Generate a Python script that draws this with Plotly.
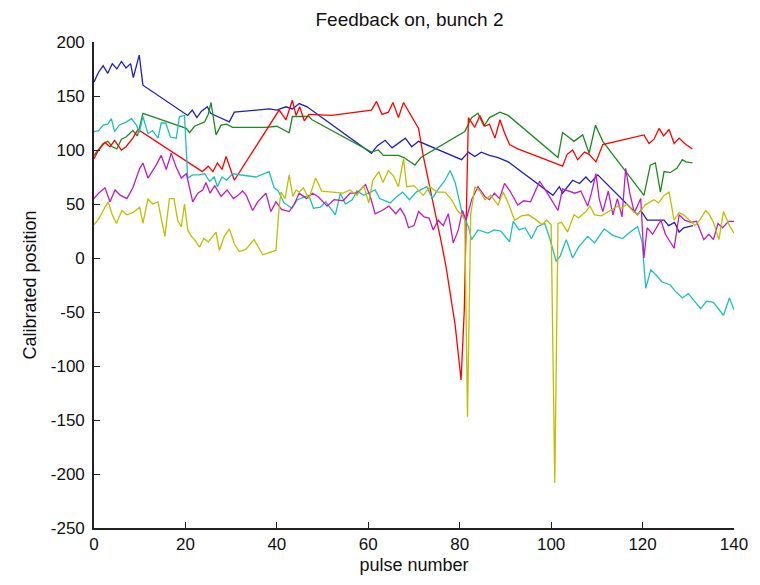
import plotly.graph_objects as go

title_text = "Feedback on, bunch 2"
x_label = "pulse number"
y_label = "Calibrated position"

series_names = ["blue", "green", "red", "cyan", "magenta", "yellow"]
series_colors = ["#1f1fb8", "#1e8a1e", "#ff0000", "#1cbfbf", "#bf1cbf", "#bfbf00"]

blue_pts = [(0,163),(1,172),(2,178),(3,171),(4,180),(5,175),(6,182),(7,176),(8,180),(8.6,167),(9.9,188),
            (10.7,160),(20.5,132),(21.5,137),(22.5,130),(23.5,136),(24.8,140),(25.5,134),(27,131),(29.6,126),
            (30.7,135),(38.3,138),(40,137),(42,140),(43.4,138),(44.9,143),(46.6,140),(49.2,132),(60.7,97),
            (62,104),(63.7,109),(65.2,102),(66.5,106),(68.1,111),(69.5,103),(71,108),(80.4,91),(81.9,98),
            (83.3,94),(84.7,98),(86.5,95),(88.4,93),(90.6,89),(100.4,58),(101.8,66),(102.5,60),(104.7,72),
            (106.2,69),(107.6,75),(108.7,70),(110.2,77),(118.9,40),(119.6,44),(121,35),(124.7,35),(125.7,30),
            (127,33),(128,24),(129,28),(131,30)]

green_pts = [(0,95),(1,100),(2,106),(3,108),(4,103),(5,101),(6,110),(7,112),(8.5,118),(9.5,113),(10.7,134),
             (20.2,120),(20.9,116),(22,122),(24.2,126),(25,133),(25.6,144),(26.7,114),(27.8,123),(29,124),
             (30.3,121),(37.6,121),(40,122),(42.7,116),(43.4,131),(47,131),(47.7,128),(60.7,98),(62.2,100),
             (63.3,95),(66.6,95),(67.8,93),(70.2,86),(71.5,93),(81.1,117),(82.6,130),(84,134),(85.3,122),
             (86.5,130),(88.8,135),(90.6,132),(101.5,93),(102.5,116),(103.5,113),(105,108),(106.9,114),
             (108.3,97),(109.7,123),(111.3,108),(120.3,58),(121.7,86),(122.8,88),(123.9,61),(124.7,80),
             (126,79),(127.5,83),(128.7,91),(129.5,89),(130.9,88)]

red_pts = [(0,92),(1,100),(2.4,107),(3.5,103),(4.5,109),(6,100),(7,103),(8.5,111),(9.6,119),(23.7,80),
           (25,85),(26,80),(27,88),(28,82),(28.9,94),(30.7,72),(40.5,137),(42,128),(43.4,146),(44.2,132),
           (45,140),(46,127),(47,133),(52,132),(60.7,137),(61.8,145),(63,133),(64.4,135),(65.4,144),
           (66.6,130),(67.7,144),(71,120),(72,95),(73,75),(74,55),(75,36),(76,14),(77,-8),(78,-36),(79,-62),
           (80.3,-113),(81,-48),(81.9,130),(83.3,121),(84.4,132),(85.5,122),(86.5,124),(87.7,111),(88.8,128),
           (89.8,116),(90.9,105),(92.7,101),(100.7,88),(102.5,85),(103.5,96),(104.7,100),(105.8,91),
           (107.3,98),(108.3,96),(109.8,89),(111.3,105),(120.3,114),(121.4,106),(122.5,110),(123.6,120),
           (124.6,113),(125.8,119),(126.9,106),(128,111),(129.2,106),(130.9,101)]

cyan_pts = [(0,117),(1,118),(2,123),(3,124),(3.8,129),(4.5,117),(5.5,123),(7.1,126),(8.2,129),(9.3,123),
            (9.9,116),(10.7,131),(11.8,115),(12.8,118),(14,111),(14.7,125),(15.7,125),(16.7,112),(18,111),
            (18.7,131),(19.8,132),(20.5,74),(21.6,77),(23,77),(24.2,78),(25.3,71),(26.3,75),(27,66),(28,75),
            (29,72),(30.3,78),(32.5,77),(35.4,75),(38.3,80),(39.4,65),(40.3,62),(41.6,51),(43.3,46),(44.5,54),
            (47,58),(48,46),(49.5,47),(50.7,52),(52.8,40),(53.9,60),(55,50),(56.5,54),(57.5,62),(59,58),
            (61.5,63),(62.5,55),(64.8,51),(66,56),(67.5,61),(69,54),(70.5,61),(72.8,66),(74,55),(75,62),
            (76.8,72),(77.9,81),(79,70),(80.4,44),(81.9,29),(82.6,17),(84,26),(86.2,23),(87.5,26),(89,25),
            (90.9,15),(91.7,34),(93,26),(94.3,28),(95.7,18),(97,29),(98.6,32),(99.7,18),(101.1,-3),(102,2),
            (103.3,17),(104.7,0),(106,10),(108,20),(109.5,14),(111.6,27),(113.5,21),(115.6,18),(117.3,24),
            (118.9,29),(119.9,15),(120.7,-28),(121.8,-11),(123,-16),(124.2,-22),(126.1,-25),(127,-30),
            (128.7,-37),(130,-33),(132.7,-47),(134,-40),(135.5,-41),(137.7,-53),(139,-37),(140,-48)]

magenta_pts = [(0,55),(1,60),(2.4,65),(3.5,52),(4.6,63),(5.8,58),(7.2,55),(8.5,65),(10,83),(10.7,88),
               (11.8,74),(12.8,80),(13.6,86),(14.7,95),(15.8,82),(16.9,97),(17.9,85),(19.1,74),(20.2,78),
               (21.6,52),(22.7,60),(23.8,63),(24.5,70),(25.4,60),(26.4,67),(27.8,57),(29.1,63),(30.5,55),
               (31.5,58),(32.5,62),(33.3,58),(34.7,44),(35.8,52),(37.6,60),(38.7,43),(39.8,52),(41,45),
               (42.7,43),(43.8,50),(44.9,60),(46.5,55),(47.8,60),(49,57),(51,48),(52.5,54),(54.5,53),(56,60),
               (57.5,60),(59.4,68),(60.5,56),(61.5,41),(63,44),(64.5,48),(66,41),(67,46),(68,39),(68.8,28),
               (70,30),(71,43),(72.2,38),(73.3,37),(74.2,26),(75.3,35),(76.4,30),(77.5,41),(78.6,14),
               (79.7,26),(80.6,44),(81.4,35),(82.6,54),(84,66),(85.5,57),(86.5,54),(87.6,60),(88.7,55),
               (89.8,69),(91,62),(92.7,49),(94,53),(95.5,52),(97.5,71),(98.6,64),(100,54),(101.5,44),
               (102.5,64),(103.8,62),(105.2,60),(106.5,62),(108,48),(108.8,60),(109.8,78),(110.5,55),
               (111.3,43),(112.5,62),(113.5,40),(114.5,55),(115.5,38),(116.3,83),(117.2,60),(118.2,42),
               (119.6,55),(120.3,0),(121,28),(122.2,22),(124,35),(125,22),(126.9,9),(128,40),(129.2,35),
               (130.5,33),(131.8,34),(133.4,17),(134.5,22),(135.5,17),(136.5,32),(137.5,28),(138.8,34),(140,34)]

yellow_pts = [(0,31),(1,36),(2,44),(3.1,52),(4,40),(4.9,32),(6.1,44),(7.2,40),(8.5,42),(10,47),(10.7,32),
              (11.8,55),(12.8,50),(14,52),(15.5,20),(16.5,55),(17.5,55),(18.3,35),(19.1,29),(19.8,50),
              (20.5,26),(21.3,20),(22,17),(23.1,10),(24,18),(25,15),(26.7,24),(27.4,7),(28.5,20),(29.6,27),
              (30.8,12),(31.8,6),(33.2,8),(35,17),(36,10),(36.9,3),(38.3,5),(39.8,7),(40.5,47),(40.9,61),
              (41.8,55),(42.7,77),(43.5,57),(44.2,63),(44.9,61),(45.8,65),(47,55),(48.5,74),(49.8,62),
              (52,61),(54.5,60),(56,63),(57.5,58),(59,67),(60.1,51),(61,72),(62.3,80),(63.2,70),(64.4,81),
              (65.5,76),(66.6,66),(67.7,92),(68.4,66),(70,67),(72,58),(73.5,66),(75,61),(76.8,61),(78.2,54),
              (79.5,44),(80.5,40),(81.1,35),(81.7,-147),(82.4,40),(83.3,66),(84.4,62),(85.5,54),(86.8,58),
              (88.4,49),(89.5,61),(90.6,51),(92,35),(93.5,39),(95,40),(96.5,36),(98,31),(99,35),(100,31),
              (100.8,-208),(101.5,32),(102.3,33),(103.6,24),(105,40),(106,37),(107.6,43),(108.5,48),
              (109.5,40),(111,39),(113.1,44),(114.5,48),(115.5,46),(116.5,50),(118,43),(119,40),(120.5,49),
              (122.5,54),(123.5,51),(124.7,58),(125.8,61),(126.9,35),(128,42),(129,40),(130.5,34),
              (131.5,30),(132.5,35),(133.8,44),(134.5,41),(135.5,33),(136.7,17),(137.7,43),(139,30),(140,23)]

x_ticks = [0, 20, 40, 60, 80, 100, 120, 140]
y_ticks = [-250, -200, -150, -100, -50, 0, 50, 100, 150, 200]

all_series = [blue_pts, green_pts, red_pts, cyan_pts, magenta_pts, yellow_pts]

font_family = "Liberation Sans, Arial, sans-serif"

fig = go.Figure()
for name, color, pts in zip(series_names, series_colors, all_series):
    fig.add_trace(go.Scatter(
        x=[p[0] for p in pts], y=[p[1] for p in pts],
        mode="lines", name=name,
        line=dict(color=color, width=1.3),
        showlegend=False, hoverinfo="skip",
    ))

fig.update_layout(
    width=760, height=585,
    margin=dict(l=94, r=23, t=42, b=57),
    paper_bgcolor="white", plot_bgcolor="white",
    font=dict(family=font_family, size=17, color="black"),
    title=dict(text=title_text, x=0.493, xref="paper", xanchor="center",
               y=1 - 19 / 585, yref="container", yanchor="middle",
               font=dict(size=19, family=font_family, color="#111111")),
)

fig.update_xaxes(
    range=[0, 140], tickvals=x_ticks, ticktext=[str(v) for v in x_ticks],
    showgrid=False, zeroline=False, showline=True, linecolor="#222222", linewidth=1.6,
    ticks="inside", ticklen=6, tickcolor="#222222", tickwidth=1.2, mirror=False,
    title=dict(text=x_label, standoff=5, font=dict(size=18, color="#111111")),
    tickfont=dict(size=17, color="#111111"),
)
fig.update_yaxes(
    range=[-250, 200], tickvals=y_ticks, ticktext=[str(v) for v in y_ticks],
    showgrid=False, zeroline=False, showline=True, linecolor="#222222", linewidth=1.6,
    ticks="inside", ticklen=6, tickcolor="#222222", tickwidth=1.2, mirror=False,
    ticklabelstandoff=4,
    title=dict(text=y_label, standoff=9, font=dict(size=18, color="#111111")),
    tickfont=dict(size=17, color="#111111"),
)

fig.write_html("out.html")
